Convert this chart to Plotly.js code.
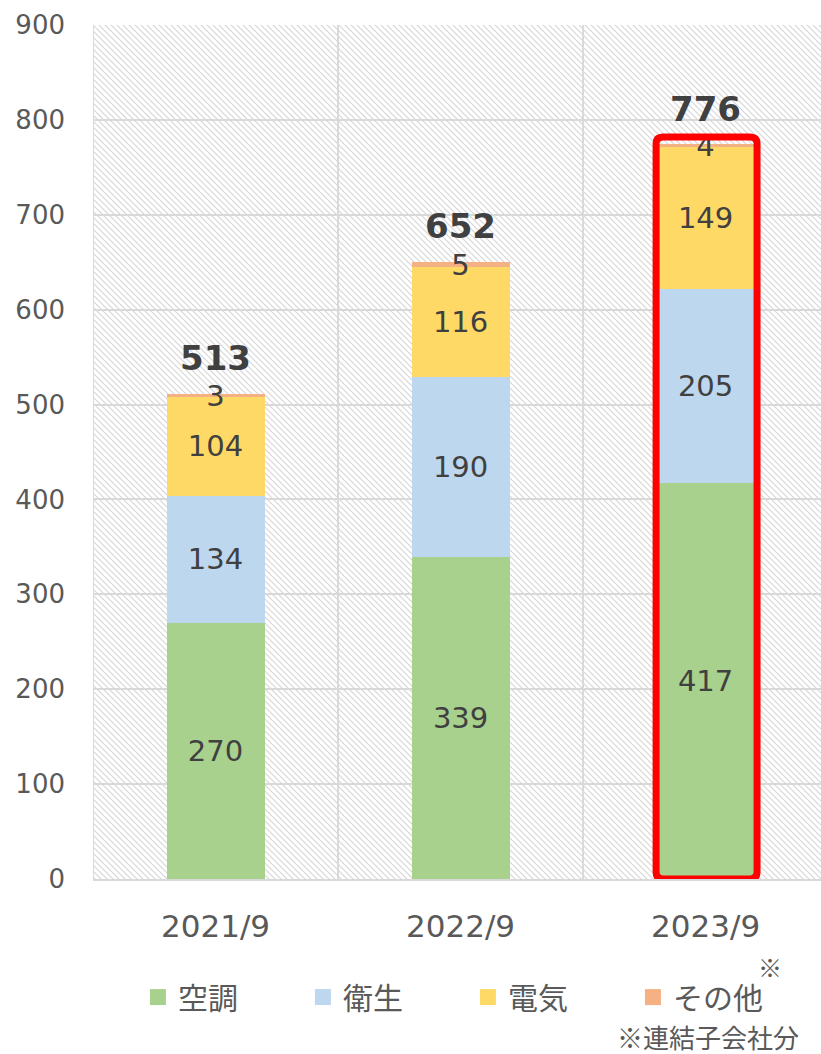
<!DOCTYPE html>
<html>
<head>
<meta charset="utf-8">
<script src="https://cdn.plot.ly/plotly-3.0.1.min.js"></script>
<style>
  html, body { margin: 0; padding: 0; background: #ffffff; }
  #wrap { position: relative; width: 821px; height: 1054px; }
  #hatch { position: absolute; background-repeat: repeat; }
  #chart { position: absolute; left: 0; top: 0; width: 821px; height: 1054px; }
</style>
</head>
<body>
<div id="wrap">
  <div id="hatch"></div>
  <div id="chart"></div>
</div>
<script>
// ---- data ----
const categories = ['2021/9', '2022/9', '2023/9'];
const seriesNames = ['空調', '衛生', '電気', 'その他'];
const airCon = [270, 339, 417];
const sanitary = [134, 190, 205];
const electric = [104, 116, 149];
const others = [3, 5, 4];
const totals = [513, 652, 776];
const colors = ['#A9D18E', '#BDD7EE', '#FFD966', '#F4B183'];
const highlightIndex = 2;
const footnoteMark = '※';
const footnoteText = '※連結子会社分';

// ---- layout constants ----
const W = 821, H = 1054;
const M = { l: 93, r: 0, t: 25, b: 175 };
const FONT = 'DejaVu Sans, Noto Sans CJK JP, sans-serif';
const BAR_W = 0.4;

// hatched plot-area background (light downward diagonal)
const tile = "<svg xmlns='http://www.w3.org/2000/svg' width='6' height='6'>" +
  "<path d='M0 0L6 6M-1 5L1 7M5 -1L7 1' stroke='%23d6d6d6' stroke-width='1.2'/></svg>";
const h = document.getElementById('hatch');
h.style.left = M.l + 'px';
h.style.top = M.t + 'px';
h.style.width = (W - M.l - M.r) + 'px';
h.style.height = (H - M.t - M.b) + 'px';
h.style.backgroundImage = 'url("data:image/svg+xml;utf8,' + tile + '")';

const seriesValues = [airCon, sanitary, electric, others];
const traces = seriesValues.map((vals, i) => ({
  type: 'bar',
  name: seriesNames[i],
  x: categories,
  y: vals,
  width: BAR_W,
  marker: { color: colors[i], line: { width: 0 } },
  text: vals.map(String),
  texttemplate: '%{text}',
  textposition: 'inside',
  insidetextanchor: 'middle',
  constraintext: 'none',
  textangle: 0,
  insidetextfont: { family: FONT, size: 29, color: '#404040' },
  hoverinfo: 'skip',
  showlegend: false
}));

// legend proxies (bigger square symbols)
seriesNames.forEach((n, i) => {
  traces.push({
    type: 'scatter', mode: 'markers', name: n,
    x: [null], y: [null],
    marker: { symbol: 'square', size: 16, color: colors[i] },
    showlegend: true, hoverinfo: 'skip'
  });
});

const annotations = totals.map((t, i) => ({
  x: categories[i], y: t, xref: 'x', yref: 'y',
  text: '<b>' + t + '</b>', showarrow: false,
  yanchor: 'bottom', yshift: 12,
  font: { family: FONT, size: 34, color: '#404040' }
}));
annotations.push({
  xref: 'paper', yref: 'paper', x: 0.93, y: -0.103,
  text: footnoteMark, showarrow: false, xanchor: 'center', yanchor: 'middle',
  font: { family: 'Noto Sans CJK JP, sans-serif', size: 24, color: '#595959' }
});
annotations.push({
  xref: 'paper', yref: 'paper', x: 0.973, y: -0.185,
  text: footnoteText, showarrow: false, xanchor: 'right', yanchor: 'middle',
  font: { family: 'Noto Sans CJK JP, sans-serif', size: 26, color: '#595959' }
});

// category separator lines
const shapes = [-0.5, 0.5, 1.5, 2.5].map(x => ({
  type: 'line', xref: 'x', yref: 'paper', x0: x, x1: x, y0: 0, y1: 1,
  line: { color: '#D9D9D9', width: 2 }, layer: 'below'
}));

// highlight box (rounded)
const hx = highlightIndex;
const x0 = hx - BAR_W / 2 - 0.002, x1 = hx + BAR_W / 2 + 0.01;
const y0 = 0, y1 = totals[hx] + 6;
const rx = 0.03, ry = 7;
const p = [
  'M', x0 + rx, y0, 'L', x1 - rx, y0, 'Q', x1, y0, x1, y0 + ry,
  'L', x1, y1 - ry, 'Q', x1, y1, x1 - rx, y1,
  'L', x0 + rx, y1, 'Q', x0, y1, x0, y1 - ry,
  'L', x0, y0 + ry, 'Q', x0, y0, x0 + rx, y0, 'Z'
].join(' ');
shapes.push({
  type: 'path', xref: 'x', yref: 'y', path: p,
  line: { color: '#FF0000', width: 7 }, fillcolor: 'rgba(0,0,0,0)', layer: 'above'
});

const layout = {
  width: W, height: H,
  margin: M,
  paper_bgcolor: 'rgba(0,0,0,0)',
  plot_bgcolor: 'rgba(0,0,0,0)',
  barmode: 'stack',
  font: { family: FONT, color: '#595959' },
  xaxis: {
    type: 'category',
    range: [-0.5, 2.471],
    showgrid: false,
    showline: true, linecolor: '#D9D9D9', linewidth: 2,
    ticks: '', ticklabelstandoff: 19,
    tickfont: { family: FONT, size: 31, color: '#595959' },
    fixedrange: true
  },
  yaxis: {
    range: [0, 900], dtick: 100, tick0: 0,
    showgrid: true, gridcolor: '#D9D9D9', gridwidth: 2,
    zeroline: false, showline: false,
    ticks: '', ticklabelstandoff: 27,
    tickfont: { family: FONT, size: 26, color: '#595959' },
    fixedrange: true
  },
  showlegend: true,
  legend: {
    orientation: 'h',
    xref: 'container', yref: 'container',
    x: 0.168, xanchor: 'left',
    y: 0.054, yanchor: 'middle',
    entrywidth: 120, entrywidthmode: 'pixels',
    traceorder: 'normal',
    font: { family: 'Noto Sans CJK JP, sans-serif', size: 30, color: '#595959' },
    bgcolor: 'rgba(0,0,0,0)'
  },
  annotations: annotations,
  shapes: shapes
};

Plotly.newPlot('chart', traces, layout, { displayModeBar: false, staticPlot: true });
</script>
</body>
</html>
